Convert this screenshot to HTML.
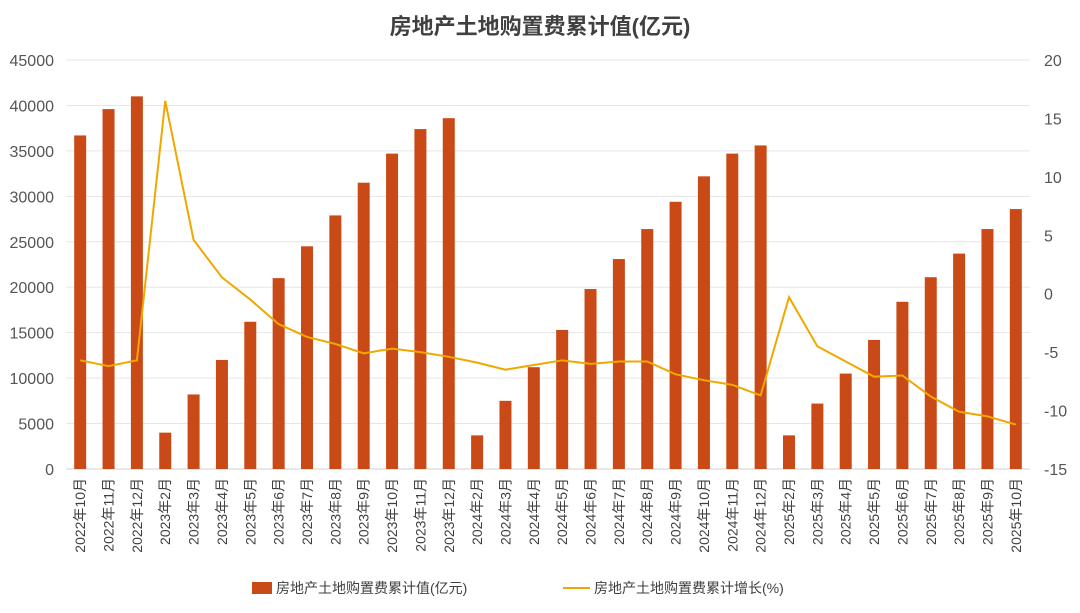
<!DOCTYPE html>
<html><head><meta charset="utf-8"><style>
body{margin:0;background:#fff;font-family:"Liberation Sans","Noto Sans CJK SC",sans-serif;}
svg text{font-family:"Liberation Sans","Noto Sans CJK SC",sans-serif;}
</style></head><body>
<svg id="c" width="1080" height="608">
<text x="540" y="34" text-anchor="middle" font-size="22" font-weight="bold" fill="#404040">房地产土地购置费累计值(亿元)</text>
<g id="grid"></g><g id="bars"></g><g id="line"></g><g id="axes"></g>
<g>
<rect x="252" y="582" width="20" height="12" fill="#C94A17"/>
<text x="276" y="593" font-size="14" fill="#404040">房地产土地购置费累计值(亿元)</text>
<line x1="563" y1="588" x2="590" y2="588" stroke="#F0A800" stroke-width="2"/>
<text x="594" y="593" font-size="14" fill="#404040">房地产土地购置费累计增长(%)</text>
</g>
</svg>
<script>
const categories=["2022年10月","2022年11月","2022年12月","2023年2月","2023年3月","2023年4月","2023年5月","2023年6月","2023年7月","2023年8月","2023年9月","2023年10月","2023年11月","2023年12月","2024年2月","2024年3月","2024年4月","2024年5月","2024年6月","2024年7月","2024年8月","2024年9月","2024年10月","2024年11月","2024年12月","2025年2月","2025年3月","2025年4月","2025年5月","2025年6月","2025年7月","2025年8月","2025年9月","2025年10月"];
const values=[36700,39600,41000,4000,8200,12000,16200,21000,24500,27900,31500,34700,37400,38600,3700,7500,11200,15300,19800,23100,26400,29400,32200,34700,35600,3700,7200,10500,14200,18400,21100,23700,26400,28600];
const growth=[-5.7,-6.2,-5.7,16.5,4.6,1.4,-0.5,-2.6,-3.7,-4.3,-5.1,-4.7,-5.0,-5.4,-5.9,-6.5,-6.1,-5.7,-6.0,-5.8,-5.8,-6.9,-7.4,-7.8,-8.7,-0.3,-4.5,-5.8,-7.1,-7.0,-8.8,-10.1,-10.5,-11.2];
const leftTicks=[0,5000,10000,15000,20000,25000,30000,35000,40000,45000];
const rightTicks=[-15,-10,-5,0,5,10,15,20];
const NS="http://www.w3.org/2000/svg";
const X0=66,X1=1030,Y0=469,Y1=60;
const step=(X1-X0)/categories.length;
const xC=i=>X0+step*(i+0.5);
const yL=v=>Y0-(v/45000)*(Y0-Y1);
const yR=v=>Y0-((v+15)/35)*(Y0-Y1);
function mk(t,a,p){const e=document.createElementNS(NS,t);for(const k in a)e.setAttribute(k,a[k]);p.appendChild(e);return e;}
const grid=document.getElementById('grid'),axes=document.getElementById('axes'),bars=document.getElementById('bars'),line=document.getElementById('line');
leftTicks.forEach(v=>{
 const l=mk('line',{x1:X0,x2:X1,y1:yL(v),y2:yL(v),stroke:v===0?'#d0d0d0':'#e6e6e6','stroke-width':1},grid);
 
 
 const t=mk('text',{x:54,y:yL(v)+6,'text-anchor':'end','font-size':16,fill:'#555'},axes);t.textContent=v;
 
 
});
rightTicks.forEach(v=>{
 const t=mk('text',{x:1044,y:yR(v)+6,'text-anchor':'start','font-size':16,fill:'#555'},axes);t.textContent=v;
 
 
});
categories.forEach((c,i)=>{
 const t=mk('text',{x:0,y:0,'text-anchor':'end','font-size':14,fill:'#404040',transform:`translate(${xC(i)+5},478) rotate(-90)`},axes);t.textContent=c;
 
 
});
values.forEach((v,i)=>{
 const r=mk('rect',{x:xC(i)-6,y:yL(v),width:12,height:Y0-yL(v),fill:'#C94A17'},bars);
 
 
});
const p=mk('polyline',{points:growth.map((v,i)=>xC(i)+','+yR(v)).join(' '),fill:'none',stroke:'#F0A800','stroke-width':2},line);


</script>
</body></html>
